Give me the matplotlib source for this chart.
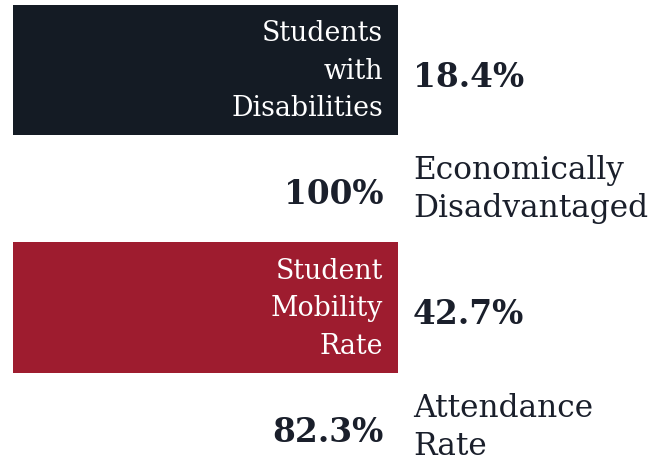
import matplotlib.pyplot as plt

labels = ["Students\nwith\nDisabilities", "Economically\nDisadvantaged",
          "Student\nMobility\nRate", "Attendance\nRate"]
values = ["18.4%", "100%", "42.7%", "82.3%"]
boxed = [True, False, True, False]
box_colors = ["#141b24", None, "#9e1c2f", None]

TEXT = "#1a1f2b"
FONT = "DejaVu Serif"

fig = plt.figure(figsize=(6.62, 4.68), dpi=100)
ax = fig.add_axes([0, 0, 1, 1])
ax.set_xlim(0, 662)
ax.set_ylim(3.352, -0.589)
ax.axis("off")

for i, (lab, val) in enumerate(zip(labels, values)):
    if boxed[i]:
        ax.barh(i, 385, left=13, height=1.1, color=box_colors[i])
        ax.text(383, i + 0.01, lab, ha="right", va="center", color="white",
                fontsize=19.3, family=FONT, linespacing=1.5)
        ax.text(413, i + 0.14, val, ha="left", va="baseline", color=TEXT,
                fontsize=23.7, family=FONT, fontweight="bold")
    else:
        ax.text(383, i + 0.13, val, ha="right", va="baseline", color=TEXT,
                fontsize=23.7, family=FONT, fontweight="bold")
        ax.text(413, i + 0.01, lab, ha="left", va="center", color=TEXT,
                fontsize=22.5, family=FONT, linespacing=1.3)

fig.savefig("out.png", dpi=100)
